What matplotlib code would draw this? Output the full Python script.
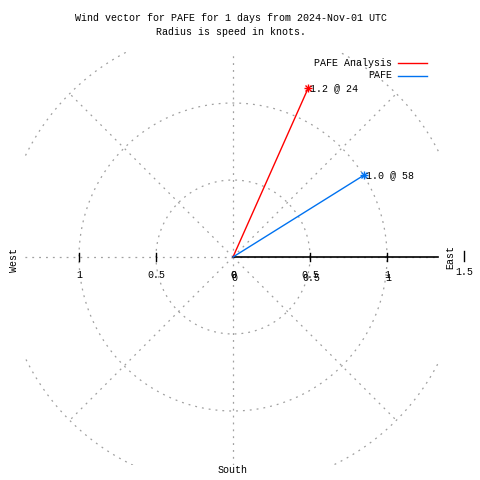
import numpy as np
import matplotlib
matplotlib.use("Agg")
import matplotlib.pyplot as plt
from matplotlib.patches import Rectangle

# wind vectors: speed (knots) and direction (deg, clockwise from north)
names = ["PAFE Analysis", "PAFE"]
speeds = [1.2, 1.0]
directions = [24, 58]
colors = ["#ff0000", "#0072f0"]

rings = [0.5, 1.0, 1.5]
spokes = [0, 45, 90, 135, 180, 225, 270, 315]
tick_vals = [0.5, 1.0]

FONT = "Liberation Mono"
FS = 7.2
GRID = "#a0a0a0"
PX = 154.0  # pixels per knot
CX, CY = 233, 257

def px(x, y):
    # pixel position -> data coords
    return (x - CX) / PX, (CY - y) / PX

fig = plt.figure(figsize=(4.8, 4.8), dpi=100)
ax = fig.add_axes([0, 0, 1, 1])
ax.set_xlim(-CX / PX, (480 - CX) / PX)
ax.set_ylim(-(480 - CY) / PX, CY / PX)
ax.axis("off")

clip = Rectangle((-1.35, -1.35), 2.69, 2.68, transform=ax.transData,
                 fill=False, visible=False)
ax.add_patch(clip)
dash = (0, (1.5, 4))

# rings
t = np.linspace(0, 2 * np.pi, 400)
for r in rings:
    ln, = ax.plot(r * np.cos(t), r * np.sin(t), color=GRID, lw=0.9, ls=dash)
    ln.set_clip_path(clip)

# spokes
for a in spokes:
    rad = np.deg2rad(a)
    rmax = 1.5 if a % 90 else 2.0
    ln, = ax.plot([0, rmax * np.sin(rad)], [0, rmax * np.cos(rad)],
                  color=GRID, lw=0.9, ls=dash)
    ln.set_clip_path(clip)

# east axis
ax.plot([0, 1.33], [0, 0], color="black", lw=1.2)
tk = 4 / PX
for v in tick_vals:
    ax.plot([v, v], [-tk, tk], color="black", lw=1)
    ax.plot([-v, -v], [-tk, tk], color="black", lw=1)
ax.plot([1.5, 1.5], [-tk, tk * 1.6], color="black", lw=1)

# tick labels (reference draws the positive ones twice, slightly offset)
ly = px(0, 275)[1]
for v in [0.0] + tick_vals:
    ax.text(-v, ly, "%g" % v, ha="center", va="center", family=FONT, fontsize=FS)
    ax.text(v, ly, "%g" % v, ha="center", va="center", family=FONT, fontsize=FS)
    ax.text(v + 1 / PX, ly - 3 / PX, "%g" % v, ha="center", va="center",
            family=FONT, fontsize=FS)
ax.text(1.5, px(0, 272)[1], "1.5", ha="center", va="center", family=FONT, fontsize=FS)

ax.text(*px(450, 257), "East", rotation=90, ha="center", va="center",
        family=FONT, fontsize=FS)
ax.text(*px(14, 260), "West", rotation=90, ha="center", va="center",
        family=FONT, fontsize=FS)
ax.text(*px(233, 470), "South", ha="center", va="center", family=FONT, fontsize=FS)

# vectors
for name, s, d, c in zip(names, speeds, directions, colors):
    rad = np.deg2rad(d)
    x, y = s * np.sin(rad), s * np.cos(rad)
    ax.plot([0, x], [0, y], color=c, lw=1)
    ax.plot([x], [y], marker="+", color=c, ms=6, mew=1)
    ax.plot([x], [y], marker="x", color=c, ms=5, mew=1)
    ax.text(x + 2 / PX, y, "%.1f @ %d" % (s, d), ha="left", va="center",
            family=FONT, fontsize=FS)

# legend
for i, (name, c) in enumerate(zip(names, colors)):
    yy = 63 + 12.5 * i
    ax.text(*px(392, yy), name, ha="right", va="center", family=FONT, fontsize=FS)
    x0, y0 = px(398, yy)
    x1, _ = px(427, yy)
    ax.plot([x0, x1], [y0, y0], color=c, lw=1)

fig.text(231 / 480, 1 - 18 / 480, "Wind vector for PAFE for 1 days from 2024-Nov-01 UTC",
         ha="center", va="center", family=FONT, fontsize=FS)
fig.text(231 / 480, 1 - 32 / 480, "Radius is speed in knots.",
         ha="center", va="center", family=FONT, fontsize=FS)

fig.savefig("out.png", dpi=100, facecolor="white")
